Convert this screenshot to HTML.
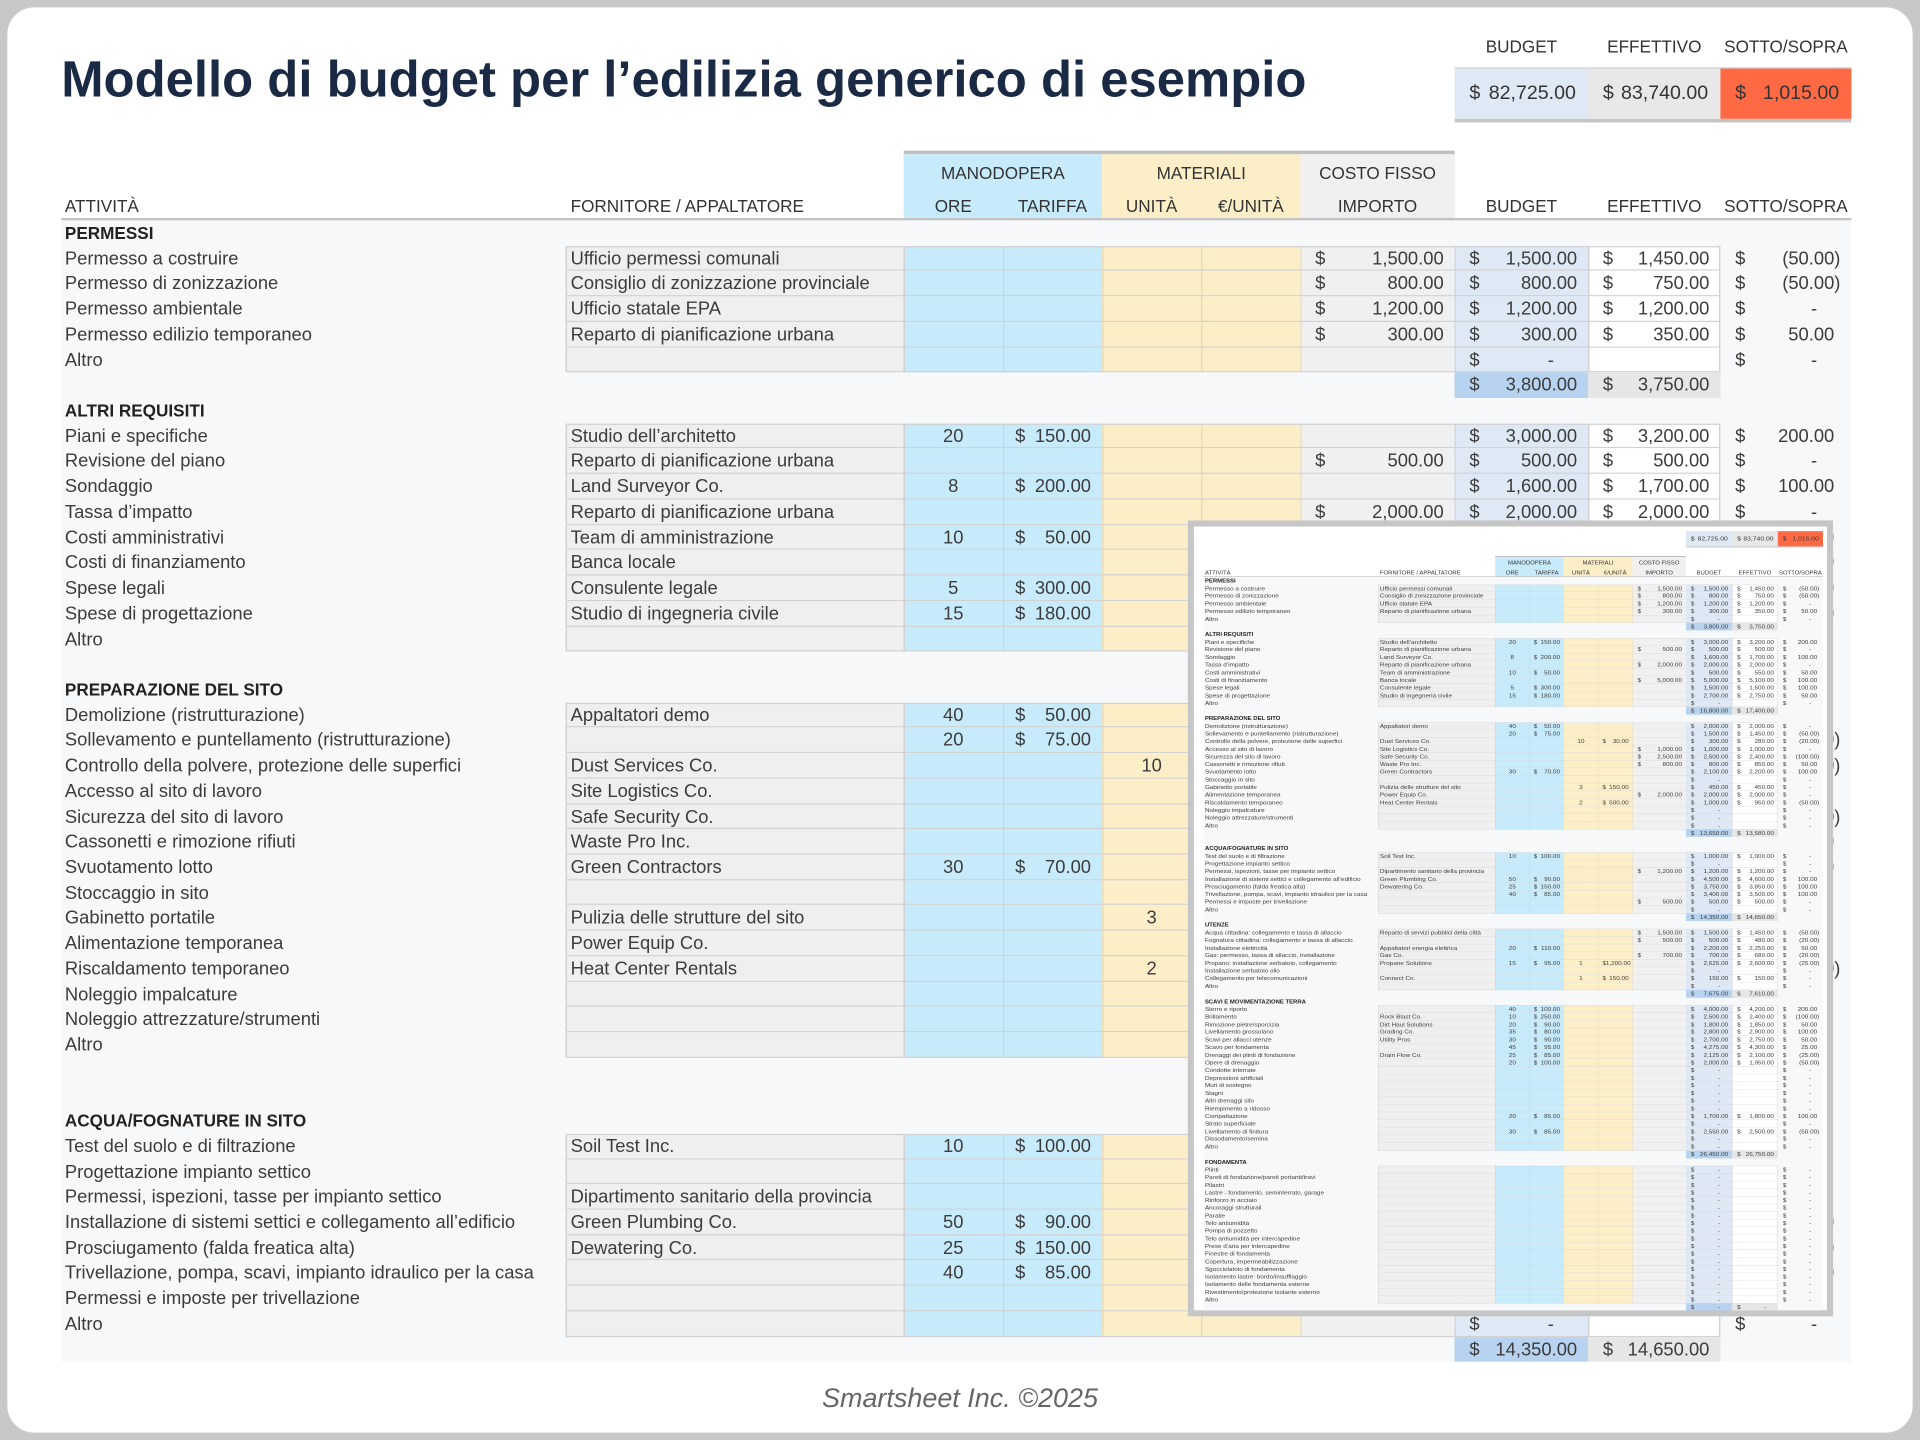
<!DOCTYPE html>
<html><head><meta charset="utf-8">
<style>
html,body{margin:0;padding:0;width:1920px;height:1440px;overflow:hidden;background:#c8c8c8}
#w{position:absolute;left:0;top:0;width:1568px;height:1176px;transform:scale(1.2244898);transform-origin:0 0;font-family:"Liberation Sans",sans-serif}
#frame{position:absolute;left:6px;top:6px;width:1556px;height:1164px;background:#fff;border-radius:22px}
#title{position:absolute;left:50px;top:41px;font-size:41.5px;font-weight:bold;color:#1b2a44;white-space:nowrap}
.sheet{position:absolute;width:1462px}
.sl{position:absolute;top:-95px;height:20px;line-height:20px;font-size:14px;color:#333;text-align:center}
.sb{position:absolute;top:-68px;left:1138px;width:324px;height:45px;border-top:1px solid #ccc;border-bottom:3px solid #c4c4c4;box-sizing:border-box}
.sb div{position:absolute;top:0;height:41px;line-height:41px;font-size:16px;color:#333;text-align:right;padding:0 10px 0 12px;box-sizing:border-box}
.sb i{font-style:normal;float:left}
.hl{position:absolute;top:0;left:688px;width:450px;height:3px;background:#c0c0c0}
.hb{position:absolute;top:3px;height:53px}
.ht{position:absolute;font-size:14px;color:#333;text-align:center;white-space:nowrap}
.t1{top:4px;height:28px;line-height:28px}
.t2{top:35px;height:20px;line-height:20px}
.hu{position:absolute;left:0;top:55px;width:1462px;height:2px;background:#c4c4c4}
.rows{position:absolute;top:57px;left:0;width:1462px;background:#f7f8fa}
.r{position:relative;height:20.73px;line-height:21px;font-size:15px;color:#3c3c3c}
.r>div{position:absolute;top:0;height:100%;white-space:nowrap;box-sizing:border-box}
.h .a{font-weight:bold;font-size:14px;color:#222}
.a{left:3px}.f{left:416px}
.o{left:688px;width:81px;text-align:center}
.t{left:769px;width:81px}
.u{left:850px;width:81px;text-align:center}
.e{left:931px;width:81px}
.c{left:1012px;width:126px}
.b{left:1138px;width:109px}
.x{left:1247px;width:108px}
.s{left:1355px;width:107px}
.m{text-align:right;padding:0 9px 0 12px}
.t.m,.e.m{padding:0 9px 0 10px}
.m i{font-style:normal;float:left}
.z{padding-right:28px!important}
u{visibility:hidden;text-decoration:none}
.d{background:
 linear-gradient(#d2d2d2,#d2d2d2) 412px 100%/943px 1px no-repeat,
 linear-gradient(to right,transparent 412px,#d2d2d2 412px 413px,#efefef 413px 688px,#d2d2d2 688px 689px,#c8ebfb 689px 769px,#b9dcec 769px 770px,#c8ebfb 770px 850px,#e6dcb8 850px 851px,#fcefc8 851px 931px,#e6dcb8 931px 932px,#fcefc8 932px 1012px,#d8d8d8 1012px 1013px,#f0f0f0 1013px 1138px,#cfd8e3 1138px 1139px,#dfe9f5 1139px 1247px,#d2d2d2 1247px 1248px,#fff 1248px 1354px,#d2d2d2 1354px 1355px,transparent 1355px)}
.ft{background:
 linear-gradient(#d2d2d2,#d2d2d2) 412px 0/943px 1px no-repeat,
 linear-gradient(#d2d2d2,#d2d2d2) 412px 100%/943px 1px no-repeat,
 linear-gradient(to right,transparent 412px,#d2d2d2 412px 413px,#efefef 413px 688px,#d2d2d2 688px 689px,#c8ebfb 689px 769px,#b9dcec 769px 770px,#c8ebfb 770px 850px,#e6dcb8 850px 851px,#fcefc8 851px 931px,#e6dcb8 931px 932px,#fcefc8 932px 1012px,#d8d8d8 1012px 1013px,#f0f0f0 1013px 1138px,#cfd8e3 1138px 1139px,#dfe9f5 1139px 1247px,#d2d2d2 1247px 1248px,#fff 1248px 1354px,#d2d2d2 1354px 1355px,transparent 1355px)}
.tt{background:linear-gradient(to right,transparent 1138px,#b7d3ef 1138px 1247px,#e6e6e6 1247px 1355px,transparent 1355px)}
#foot{position:absolute;left:0;width:1568px;top:1129px;text-align:center;font-size:22px;font-style:italic;color:#666}
#ov{position:absolute;left:970px;top:425px;width:527px;height:650px;box-sizing:border-box;border:5px solid #c6c6c6;background:#fff;overflow:hidden}
#ov .sheet{left:8px;top:24px;transform:scale(0.346,0.3015);transform-origin:0 0}
</style></head><body>
<div id="w">
<div id="frame"></div>
<div id="title">Modello di budget per l’edilizia generico di esempio</div>

<div class="sheet" style="left:50px;top:123px">
<div class="sl" style="left:1138px;width:109px">BUDGET</div>
<div class="sl" style="left:1247px;width:108px">EFFETTIVO</div>
<div class="sl" style="left:1355px;width:107px">SOTTO/SOPRA</div>
<div class="sb"><div style="left:0;width:109px;background:#dfe9f5"><i>$</i>82,725.00</div><div style="left:109px;width:108px;background:#e8e8e8"><i>$</i>83,740.00</div><div style="left:217px;width:107px;background:#ff6a45"><i>$</i>1,015.00</div></div>
<div class="hl"></div>
<div class="hb" style="left:688px;width:162px;background:#c8ebfb"></div>
<div class="hb" style="left:850px;width:162px;background:#fcefc8"></div>
<div class="hb" style="left:1012px;width:126px;background:#f0f0f0"></div>
<div class="ht t1" style="left:688px;width:162px">MANODOPERA</div>
<div class="ht t1" style="left:850px;width:162px">MATERIALI</div>
<div class="ht t1" style="left:1012px;width:126px">COSTO FISSO</div>
<div class="ht t2" style="left:3px;text-align:left">ATTIVITÀ</div>
<div class="ht t2" style="left:416px;text-align:left">FORNITORE / APPALTATORE</div>
<div class="ht t2" style="left:688px;width:81px">ORE</div>
<div class="ht t2" style="left:769px;width:81px">TARIFFA</div>
<div class="ht t2" style="left:850px;width:81px">UNITÀ</div>
<div class="ht t2" style="left:931px;width:81px">€/UNITÀ</div>
<div class="ht t2" style="left:1012px;width:126px">IMPORTO</div>
<div class="ht t2" style="left:1138px;width:109px">BUDGET</div>
<div class="ht t2" style="left:1247px;width:108px">EFFETTIVO</div>
<div class="ht t2" style="left:1355px;width:107px">SOTTO/SOPRA</div>
<div class="hu"></div>
<div class="rows">
<div class="r h"><div class="a">PERMESSI</div></div>
<div class="r d ft"><div class="a">Permesso a costruire</div><div class="f">Ufficio permessi comunali</div><div class="c m"><i>$</i>1,500.00</div><div class="b m"><i>$</i>1,500.00</div><div class="x m"><i>$</i>1,450.00</div><div class="s m"><i>$</i>(50.00)</div></div>
<div class="r d"><div class="a">Permesso di zonizzazione</div><div class="f">Consiglio di zonizzazione provinciale</div><div class="c m"><i>$</i>800.00</div><div class="b m"><i>$</i>800.00</div><div class="x m"><i>$</i>750.00</div><div class="s m"><i>$</i>(50.00)</div></div>
<div class="r d"><div class="a">Permesso ambientale</div><div class="f">Ufficio statale EPA</div><div class="c m"><i>$</i>1,200.00</div><div class="b m"><i>$</i>1,200.00</div><div class="x m"><i>$</i>1,200.00</div><div class="s m z"><i>$</i>-</div></div>
<div class="r d"><div class="a">Permesso edilizio temporaneo</div><div class="f">Reparto di pianificazione urbana</div><div class="c m"><i>$</i>300.00</div><div class="b m"><i>$</i>300.00</div><div class="x m"><i>$</i>350.00</div><div class="s m"><i>$</i>50.00<u>)</u></div></div>
<div class="r d"><div class="a">Altro</div><div class="b m z"><i>$</i>-</div><div class="s m z"><i>$</i>-</div></div>
<div class="r tt"><div class="b m"><i>$</i>3,800.00</div><div class="x m"><i>$</i>3,750.00</div></div>
<div class="r h"><div class="a">ALTRI REQUISITI</div></div>
<div class="r d ft"><div class="a">Piani e specifiche</div><div class="f">Studio dell’architetto</div><div class="o">20</div><div class="t m"><i>$</i>150.00</div><div class="b m"><i>$</i>3,000.00</div><div class="x m"><i>$</i>3,200.00</div><div class="s m"><i>$</i>200.00<u>)</u></div></div>
<div class="r d"><div class="a">Revisione del piano</div><div class="f">Reparto di pianificazione urbana</div><div class="c m"><i>$</i>500.00</div><div class="b m"><i>$</i>500.00</div><div class="x m"><i>$</i>500.00</div><div class="s m z"><i>$</i>-</div></div>
<div class="r d"><div class="a">Sondaggio</div><div class="f">Land Surveyor Co.</div><div class="o">8</div><div class="t m"><i>$</i>200.00</div><div class="b m"><i>$</i>1,600.00</div><div class="x m"><i>$</i>1,700.00</div><div class="s m"><i>$</i>100.00<u>)</u></div></div>
<div class="r d"><div class="a">Tassa d’impatto</div><div class="f">Reparto di pianificazione urbana</div><div class="c m"><i>$</i>2,000.00</div><div class="b m"><i>$</i>2,000.00</div><div class="x m"><i>$</i>2,000.00</div><div class="s m z"><i>$</i>-</div></div>
<div class="r d"><div class="a">Costi amministrativi</div><div class="f">Team di amministrazione</div><div class="o">10</div><div class="t m"><i>$</i>50.00</div><div class="b m"><i>$</i>500.00</div><div class="x m"><i>$</i>550.00</div><div class="s m"><i>$</i>50.00<u>)</u></div></div>
<div class="r d"><div class="a">Costi di finanziamento</div><div class="f">Banca locale</div><div class="c m"><i>$</i>5,000.00</div><div class="b m"><i>$</i>5,000.00</div><div class="x m"><i>$</i>5,100.00</div><div class="s m"><i>$</i>100.00<u>)</u></div></div>
<div class="r d"><div class="a">Spese legali</div><div class="f">Consulente legale</div><div class="o">5</div><div class="t m"><i>$</i>300.00</div><div class="b m"><i>$</i>1,500.00</div><div class="x m"><i>$</i>1,600.00</div><div class="s m"><i>$</i>100.00<u>)</u></div></div>
<div class="r d"><div class="a">Spese di progettazione</div><div class="f">Studio di ingegneria civile</div><div class="o">15</div><div class="t m"><i>$</i>180.00</div><div class="b m"><i>$</i>2,700.00</div><div class="x m"><i>$</i>2,750.00</div><div class="s m"><i>$</i>50.00<u>)</u></div></div>
<div class="r d"><div class="a">Altro</div><div class="b m z"><i>$</i>-</div><div class="s m z"><i>$</i>-</div></div>
<div class="r tt"><div class="b m"><i>$</i>16,800.00</div><div class="x m"><i>$</i>17,400.00</div></div>
<div class="r h"><div class="a">PREPARAZIONE DEL SITO</div></div>
<div class="r d ft"><div class="a">Demolizione (ristrutturazione)</div><div class="f">Appaltatori demo</div><div class="o">40</div><div class="t m"><i>$</i>50.00</div><div class="b m"><i>$</i>2,000.00</div><div class="x m"><i>$</i>2,000.00</div><div class="s m z"><i>$</i>-</div></div>
<div class="r d"><div class="a">Sollevamento e puntellamento (ristrutturazione)</div><div class="o">20</div><div class="t m"><i>$</i>75.00</div><div class="b m"><i>$</i>1,500.00</div><div class="x m"><i>$</i>1,450.00</div><div class="s m"><i>$</i>(50.00)</div></div>
<div class="r d"><div class="a">Controllo della polvere, protezione delle superfici</div><div class="f">Dust Services Co.</div><div class="u">10</div><div class="e m"><i>$</i>30.00</div><div class="b m"><i>$</i>300.00</div><div class="x m"><i>$</i>280.00</div><div class="s m"><i>$</i>(20.00)</div></div>
<div class="r d"><div class="a">Accesso al sito di lavoro</div><div class="f">Site Logistics Co.</div><div class="c m"><i>$</i>1,000.00</div><div class="b m"><i>$</i>1,000.00</div><div class="x m"><i>$</i>1,000.00</div><div class="s m z"><i>$</i>-</div></div>
<div class="r d"><div class="a">Sicurezza del sito di lavoro</div><div class="f">Safe Security Co.</div><div class="c m"><i>$</i>2,500.00</div><div class="b m"><i>$</i>2,500.00</div><div class="x m"><i>$</i>2,400.00</div><div class="s m"><i>$</i>(100.00)</div></div>
<div class="r d"><div class="a">Cassonetti e rimozione rifiuti</div><div class="f">Waste Pro Inc.</div><div class="c m"><i>$</i>800.00</div><div class="b m"><i>$</i>800.00</div><div class="x m"><i>$</i>850.00</div><div class="s m"><i>$</i>50.00<u>)</u></div></div>
<div class="r d"><div class="a">Svuotamento lotto</div><div class="f">Green Contractors</div><div class="o">30</div><div class="t m"><i>$</i>70.00</div><div class="b m"><i>$</i>2,100.00</div><div class="x m"><i>$</i>2,200.00</div><div class="s m"><i>$</i>100.00<u>)</u></div></div>
<div class="r d"><div class="a">Stoccaggio in sito</div><div class="b m z"><i>$</i>-</div><div class="s m z"><i>$</i>-</div></div>
<div class="r d"><div class="a">Gabinetto portatile</div><div class="f">Pulizia delle strutture del sito</div><div class="u">3</div><div class="e m"><i>$</i>150.00</div><div class="b m"><i>$</i>450.00</div><div class="x m"><i>$</i>450.00</div><div class="s m z"><i>$</i>-</div></div>
<div class="r d"><div class="a">Alimentazione temporanea</div><div class="f">Power Equip Co.</div><div class="c m"><i>$</i>2,000.00</div><div class="b m"><i>$</i>2,000.00</div><div class="x m"><i>$</i>2,000.00</div><div class="s m z"><i>$</i>-</div></div>
<div class="r d"><div class="a">Riscaldamento temporaneo</div><div class="f">Heat Center Rentals</div><div class="u">2</div><div class="e m"><i>$</i>500.00</div><div class="b m"><i>$</i>1,000.00</div><div class="x m"><i>$</i>950.00</div><div class="s m"><i>$</i>(50.00)</div></div>
<div class="r d"><div class="a">Noleggio impalcature</div><div class="b m z"><i>$</i>-</div><div class="s m z"><i>$</i>-</div></div>
<div class="r d"><div class="a">Noleggio attrezzature/strumenti</div><div class="b m z"><i>$</i>-</div><div class="s m z"><i>$</i>-</div></div>
<div class="r d"><div class="a">Altro</div><div class="b m z"><i>$</i>-</div><div class="s m z"><i>$</i>-</div></div>
<div class="r tt"><div class="b m"><i>$</i>13,650.00</div><div class="x m"><i>$</i>13,580.00</div></div>
<div class="r"></div>
<div class="r h"><div class="a">ACQUA/FOGNATURE IN SITO</div></div>
<div class="r d ft"><div class="a">Test del suolo e di filtrazione</div><div class="f">Soil Test Inc.</div><div class="o">10</div><div class="t m"><i>$</i>100.00</div><div class="b m"><i>$</i>1,000.00</div><div class="x m"><i>$</i>1,000.00</div><div class="s m z"><i>$</i>-</div></div>
<div class="r d"><div class="a">Progettazione impianto settico</div><div class="b m z"><i>$</i>-</div><div class="s m z"><i>$</i>-</div></div>
<div class="r d"><div class="a">Permessi, ispezioni, tasse per impianto settico</div><div class="f">Dipartimento sanitario della provincia</div><div class="c m"><i>$</i>1,200.00</div><div class="b m"><i>$</i>1,200.00</div><div class="x m"><i>$</i>1,200.00</div><div class="s m z"><i>$</i>-</div></div>
<div class="r d"><div class="a">Installazione di sistemi settici e collegamento all’edificio</div><div class="f">Green Plumbing Co.</div><div class="o">50</div><div class="t m"><i>$</i>90.00</div><div class="b m"><i>$</i>4,500.00</div><div class="x m"><i>$</i>4,600.00</div><div class="s m"><i>$</i>100.00<u>)</u></div></div>
<div class="r d"><div class="a">Prosciugamento (falda freatica alta)</div><div class="f">Dewatering Co.</div><div class="o">25</div><div class="t m"><i>$</i>150.00</div><div class="b m"><i>$</i>3,750.00</div><div class="x m"><i>$</i>3,850.00</div><div class="s m"><i>$</i>100.00<u>)</u></div></div>
<div class="r d"><div class="a">Trivellazione, pompa, scavi, impianto idraulico per la casa</div><div class="o">40</div><div class="t m"><i>$</i>85.00</div><div class="b m"><i>$</i>3,400.00</div><div class="x m"><i>$</i>3,500.00</div><div class="s m"><i>$</i>100.00<u>)</u></div></div>
<div class="r d"><div class="a">Permessi e imposte per trivellazione</div><div class="c m"><i>$</i>500.00</div><div class="b m"><i>$</i>500.00</div><div class="x m"><i>$</i>500.00</div><div class="s m z"><i>$</i>-</div></div>
<div class="r d"><div class="a">Altro</div><div class="b m z"><i>$</i>-</div><div class="s m z"><i>$</i>-</div></div>
<div class="r tt"><div class="b m"><i>$</i>14,350.00</div><div class="x m"><i>$</i>14,650.00</div></div>
</div>
</div>

<div id="ov">
<div class="sheet">
<div class="sb"><div style="left:0;width:109px;background:#dfe9f5"><i>$</i>82,725.00</div><div style="left:109px;width:108px;background:#e8e8e8"><i>$</i>83,740.00</div><div style="left:217px;width:107px;background:#ff6a45"><i>$</i>1,015.00</div></div>
<div class="hl"></div>
<div class="hb" style="left:688px;width:162px;background:#c8ebfb"></div>
<div class="hb" style="left:850px;width:162px;background:#fcefc8"></div>
<div class="hb" style="left:1012px;width:126px;background:#f0f0f0"></div>
<div class="ht t1" style="left:688px;width:162px">MANODOPERA</div>
<div class="ht t1" style="left:850px;width:162px">MATERIALI</div>
<div class="ht t1" style="left:1012px;width:126px">COSTO FISSO</div>
<div class="ht t2" style="left:3px;text-align:left">ATTIVITÀ</div>
<div class="ht t2" style="left:416px;text-align:left">FORNITORE / APPALTATORE</div>
<div class="ht t2" style="left:688px;width:81px">ORE</div>
<div class="ht t2" style="left:769px;width:81px">TARIFFA</div>
<div class="ht t2" style="left:850px;width:81px">UNITÀ</div>
<div class="ht t2" style="left:931px;width:81px">€/UNITÀ</div>
<div class="ht t2" style="left:1012px;width:126px">IMPORTO</div>
<div class="ht t2" style="left:1138px;width:109px">BUDGET</div>
<div class="ht t2" style="left:1247px;width:108px">EFFETTIVO</div>
<div class="ht t2" style="left:1355px;width:107px">SOTTO/SOPRA</div>
<div class="hu"></div>
<div class="rows">
<div class="r h"><div class="a">PERMESSI</div></div>
<div class="r d ft"><div class="a">Permesso a costruire</div><div class="f">Ufficio permessi comunali</div><div class="c m"><i>$</i>1,500.00</div><div class="b m"><i>$</i>1,500.00</div><div class="x m"><i>$</i>1,450.00</div><div class="s m"><i>$</i>(50.00)</div></div>
<div class="r d"><div class="a">Permesso di zonizzazione</div><div class="f">Consiglio di zonizzazione provinciale</div><div class="c m"><i>$</i>800.00</div><div class="b m"><i>$</i>800.00</div><div class="x m"><i>$</i>750.00</div><div class="s m"><i>$</i>(50.00)</div></div>
<div class="r d"><div class="a">Permesso ambientale</div><div class="f">Ufficio statale EPA</div><div class="c m"><i>$</i>1,200.00</div><div class="b m"><i>$</i>1,200.00</div><div class="x m"><i>$</i>1,200.00</div><div class="s m z"><i>$</i>-</div></div>
<div class="r d"><div class="a">Permesso edilizio temporaneo</div><div class="f">Reparto di pianificazione urbana</div><div class="c m"><i>$</i>300.00</div><div class="b m"><i>$</i>300.00</div><div class="x m"><i>$</i>350.00</div><div class="s m"><i>$</i>50.00<u>)</u></div></div>
<div class="r d"><div class="a">Altro</div><div class="b m z"><i>$</i>-</div><div class="s m z"><i>$</i>-</div></div>
<div class="r tt"><div class="b m"><i>$</i>3,800.00</div><div class="x m"><i>$</i>3,750.00</div></div>
<div class="r h"><div class="a">ALTRI REQUISITI</div></div>
<div class="r d ft"><div class="a">Piani e specifiche</div><div class="f">Studio dell’architetto</div><div class="o">20</div><div class="t m"><i>$</i>150.00</div><div class="b m"><i>$</i>3,000.00</div><div class="x m"><i>$</i>3,200.00</div><div class="s m"><i>$</i>200.00<u>)</u></div></div>
<div class="r d"><div class="a">Revisione del piano</div><div class="f">Reparto di pianificazione urbana</div><div class="c m"><i>$</i>500.00</div><div class="b m"><i>$</i>500.00</div><div class="x m"><i>$</i>500.00</div><div class="s m z"><i>$</i>-</div></div>
<div class="r d"><div class="a">Sondaggio</div><div class="f">Land Surveyor Co.</div><div class="o">8</div><div class="t m"><i>$</i>200.00</div><div class="b m"><i>$</i>1,600.00</div><div class="x m"><i>$</i>1,700.00</div><div class="s m"><i>$</i>100.00<u>)</u></div></div>
<div class="r d"><div class="a">Tassa d’impatto</div><div class="f">Reparto di pianificazione urbana</div><div class="c m"><i>$</i>2,000.00</div><div class="b m"><i>$</i>2,000.00</div><div class="x m"><i>$</i>2,000.00</div><div class="s m z"><i>$</i>-</div></div>
<div class="r d"><div class="a">Costi amministrativi</div><div class="f">Team di amministrazione</div><div class="o">10</div><div class="t m"><i>$</i>50.00</div><div class="b m"><i>$</i>500.00</div><div class="x m"><i>$</i>550.00</div><div class="s m"><i>$</i>50.00<u>)</u></div></div>
<div class="r d"><div class="a">Costi di finanziamento</div><div class="f">Banca locale</div><div class="c m"><i>$</i>5,000.00</div><div class="b m"><i>$</i>5,000.00</div><div class="x m"><i>$</i>5,100.00</div><div class="s m"><i>$</i>100.00<u>)</u></div></div>
<div class="r d"><div class="a">Spese legali</div><div class="f">Consulente legale</div><div class="o">5</div><div class="t m"><i>$</i>300.00</div><div class="b m"><i>$</i>1,500.00</div><div class="x m"><i>$</i>1,600.00</div><div class="s m"><i>$</i>100.00<u>)</u></div></div>
<div class="r d"><div class="a">Spese di progettazione</div><div class="f">Studio di ingegneria civile</div><div class="o">15</div><div class="t m"><i>$</i>180.00</div><div class="b m"><i>$</i>2,700.00</div><div class="x m"><i>$</i>2,750.00</div><div class="s m"><i>$</i>50.00<u>)</u></div></div>
<div class="r d"><div class="a">Altro</div><div class="b m z"><i>$</i>-</div><div class="s m z"><i>$</i>-</div></div>
<div class="r tt"><div class="b m"><i>$</i>16,800.00</div><div class="x m"><i>$</i>17,400.00</div></div>
<div class="r h"><div class="a">PREPARAZIONE DEL SITO</div></div>
<div class="r d ft"><div class="a">Demolizione (ristrutturazione)</div><div class="f">Appaltatori demo</div><div class="o">40</div><div class="t m"><i>$</i>50.00</div><div class="b m"><i>$</i>2,000.00</div><div class="x m"><i>$</i>2,000.00</div><div class="s m z"><i>$</i>-</div></div>
<div class="r d"><div class="a">Sollevamento e puntellamento (ristrutturazione)</div><div class="o">20</div><div class="t m"><i>$</i>75.00</div><div class="b m"><i>$</i>1,500.00</div><div class="x m"><i>$</i>1,450.00</div><div class="s m"><i>$</i>(50.00)</div></div>
<div class="r d"><div class="a">Controllo della polvere, protezione delle superfici</div><div class="f">Dust Services Co.</div><div class="u">10</div><div class="e m"><i>$</i>30.00</div><div class="b m"><i>$</i>300.00</div><div class="x m"><i>$</i>280.00</div><div class="s m"><i>$</i>(20.00)</div></div>
<div class="r d"><div class="a">Accesso al sito di lavoro</div><div class="f">Site Logistics Co.</div><div class="c m"><i>$</i>1,000.00</div><div class="b m"><i>$</i>1,000.00</div><div class="x m"><i>$</i>1,000.00</div><div class="s m z"><i>$</i>-</div></div>
<div class="r d"><div class="a">Sicurezza del sito di lavoro</div><div class="f">Safe Security Co.</div><div class="c m"><i>$</i>2,500.00</div><div class="b m"><i>$</i>2,500.00</div><div class="x m"><i>$</i>2,400.00</div><div class="s m"><i>$</i>(100.00)</div></div>
<div class="r d"><div class="a">Cassonetti e rimozione rifiuti</div><div class="f">Waste Pro Inc.</div><div class="c m"><i>$</i>800.00</div><div class="b m"><i>$</i>800.00</div><div class="x m"><i>$</i>850.00</div><div class="s m"><i>$</i>50.00<u>)</u></div></div>
<div class="r d"><div class="a">Svuotamento lotto</div><div class="f">Green Contractors</div><div class="o">30</div><div class="t m"><i>$</i>70.00</div><div class="b m"><i>$</i>2,100.00</div><div class="x m"><i>$</i>2,200.00</div><div class="s m"><i>$</i>100.00<u>)</u></div></div>
<div class="r d"><div class="a">Stoccaggio in sito</div><div class="b m z"><i>$</i>-</div><div class="s m z"><i>$</i>-</div></div>
<div class="r d"><div class="a">Gabinetto portatile</div><div class="f">Pulizia delle strutture del sito</div><div class="u">3</div><div class="e m"><i>$</i>150.00</div><div class="b m"><i>$</i>450.00</div><div class="x m"><i>$</i>450.00</div><div class="s m z"><i>$</i>-</div></div>
<div class="r d"><div class="a">Alimentazione temporanea</div><div class="f">Power Equip Co.</div><div class="c m"><i>$</i>2,000.00</div><div class="b m"><i>$</i>2,000.00</div><div class="x m"><i>$</i>2,000.00</div><div class="s m z"><i>$</i>-</div></div>
<div class="r d"><div class="a">Riscaldamento temporaneo</div><div class="f">Heat Center Rentals</div><div class="u">2</div><div class="e m"><i>$</i>500.00</div><div class="b m"><i>$</i>1,000.00</div><div class="x m"><i>$</i>950.00</div><div class="s m"><i>$</i>(50.00)</div></div>
<div class="r d"><div class="a">Noleggio impalcature</div><div class="b m z"><i>$</i>-</div><div class="s m z"><i>$</i>-</div></div>
<div class="r d"><div class="a">Noleggio attrezzature/strumenti</div><div class="b m z"><i>$</i>-</div><div class="s m z"><i>$</i>-</div></div>
<div class="r d"><div class="a">Altro</div><div class="b m z"><i>$</i>-</div><div class="s m z"><i>$</i>-</div></div>
<div class="r tt"><div class="b m"><i>$</i>13,650.00</div><div class="x m"><i>$</i>13,580.00</div></div>
<div class="r"></div>
<div class="r h"><div class="a">ACQUA/FOGNATURE IN SITO</div></div>
<div class="r d ft"><div class="a">Test del suolo e di filtrazione</div><div class="f">Soil Test Inc.</div><div class="o">10</div><div class="t m"><i>$</i>100.00</div><div class="b m"><i>$</i>1,000.00</div><div class="x m"><i>$</i>1,000.00</div><div class="s m z"><i>$</i>-</div></div>
<div class="r d"><div class="a">Progettazione impianto settico</div><div class="b m z"><i>$</i>-</div><div class="s m z"><i>$</i>-</div></div>
<div class="r d"><div class="a">Permessi, ispezioni, tasse per impianto settico</div><div class="f">Dipartimento sanitario della provincia</div><div class="c m"><i>$</i>1,200.00</div><div class="b m"><i>$</i>1,200.00</div><div class="x m"><i>$</i>1,200.00</div><div class="s m z"><i>$</i>-</div></div>
<div class="r d"><div class="a">Installazione di sistemi settici e collegamento all’edificio</div><div class="f">Green Plumbing Co.</div><div class="o">50</div><div class="t m"><i>$</i>90.00</div><div class="b m"><i>$</i>4,500.00</div><div class="x m"><i>$</i>4,600.00</div><div class="s m"><i>$</i>100.00<u>)</u></div></div>
<div class="r d"><div class="a">Prosciugamento (falda freatica alta)</div><div class="f">Dewatering Co.</div><div class="o">25</div><div class="t m"><i>$</i>150.00</div><div class="b m"><i>$</i>3,750.00</div><div class="x m"><i>$</i>3,850.00</div><div class="s m"><i>$</i>100.00<u>)</u></div></div>
<div class="r d"><div class="a">Trivellazione, pompa, scavi, impianto idraulico per la casa</div><div class="o">40</div><div class="t m"><i>$</i>85.00</div><div class="b m"><i>$</i>3,400.00</div><div class="x m"><i>$</i>3,500.00</div><div class="s m"><i>$</i>100.00<u>)</u></div></div>
<div class="r d"><div class="a">Permessi e imposte per trivellazione</div><div class="c m"><i>$</i>500.00</div><div class="b m"><i>$</i>500.00</div><div class="x m"><i>$</i>500.00</div><div class="s m z"><i>$</i>-</div></div>
<div class="r d"><div class="a">Altro</div><div class="b m z"><i>$</i>-</div><div class="s m z"><i>$</i>-</div></div>
<div class="r tt"><div class="b m"><i>$</i>14,350.00</div><div class="x m"><i>$</i>14,650.00</div></div>
<div class="r h"><div class="a">UTENZE</div></div>
<div class="r d ft"><div class="a">Acqua cittadina: collegamento e tassa di allaccio</div><div class="f">Reparto di servizi pubblici della città</div><div class="c m"><i>$</i>1,500.00</div><div class="b m"><i>$</i>1,500.00</div><div class="x m"><i>$</i>1,450.00</div><div class="s m"><i>$</i>(50.00)</div></div>
<div class="r d"><div class="a">Fognatura cittadina: collegamento e tassa di allaccio</div><div class="c m"><i>$</i>500.00</div><div class="b m"><i>$</i>500.00</div><div class="x m"><i>$</i>480.00</div><div class="s m"><i>$</i>(20.00)</div></div>
<div class="r d"><div class="a">Installazione elettricità</div><div class="f">Appaltatori energia elettrica</div><div class="o">20</div><div class="t m"><i>$</i>110.00</div><div class="b m"><i>$</i>2,200.00</div><div class="x m"><i>$</i>2,250.00</div><div class="s m"><i>$</i>50.00<u>)</u></div></div>
<div class="r d"><div class="a">Gas: permesso, tassa di allaccio, installazione</div><div class="f">Gas Co.</div><div class="c m"><i>$</i>700.00</div><div class="b m"><i>$</i>700.00</div><div class="x m"><i>$</i>680.00</div><div class="s m"><i>$</i>(20.00)</div></div>
<div class="r d"><div class="a">Propano: installazione serbatoio, collegamento</div><div class="f">Propane Solutions</div><div class="o">15</div><div class="t m"><i>$</i>95.00</div><div class="u">1</div><div class="e m"><i>$</i>1,200.00</div><div class="b m"><i>$</i>2,625.00</div><div class="x m"><i>$</i>2,600.00</div><div class="s m"><i>$</i>(25.00)</div></div>
<div class="r d"><div class="a">Installazione serbatoio olio</div><div class="b m z"><i>$</i>-</div><div class="s m z"><i>$</i>-</div></div>
<div class="r d"><div class="a">Collegamento per telecomunicazioni</div><div class="f">Connect Co.</div><div class="u">1</div><div class="e m"><i>$</i>150.00</div><div class="b m"><i>$</i>150.00</div><div class="x m"><i>$</i>150.00</div><div class="s m z"><i>$</i>-</div></div>
<div class="r d"><div class="a">Altro</div><div class="b m z"><i>$</i>-</div><div class="s m z"><i>$</i>-</div></div>
<div class="r tt"><div class="b m"><i>$</i>7,675.00</div><div class="x m"><i>$</i>7,610.00</div></div>
<div class="r h"><div class="a">SCAVI E MOVIMENTAZIONE TERRA</div></div>
<div class="r d ft"><div class="a">Sterro e riporto</div><div class="o">40</div><div class="t m"><i>$</i>100.00</div><div class="b m"><i>$</i>4,000.00</div><div class="x m"><i>$</i>4,200.00</div><div class="s m"><i>$</i>200.00<u>)</u></div></div>
<div class="r d"><div class="a">Brillamento</div><div class="f">Rock Blast Co.</div><div class="o">10</div><div class="t m"><i>$</i>250.00</div><div class="b m"><i>$</i>2,500.00</div><div class="x m"><i>$</i>2,400.00</div><div class="s m"><i>$</i>(100.00)</div></div>
<div class="r d"><div class="a">Rimozione pietre/sporcizia</div><div class="f">Dirt Haul Solutions</div><div class="o">20</div><div class="t m"><i>$</i>90.00</div><div class="b m"><i>$</i>1,800.00</div><div class="x m"><i>$</i>1,850.00</div><div class="s m"><i>$</i>50.00<u>)</u></div></div>
<div class="r d"><div class="a">Livellamento grossolano</div><div class="f">Grading Co.</div><div class="o">35</div><div class="t m"><i>$</i>80.00</div><div class="b m"><i>$</i>2,800.00</div><div class="x m"><i>$</i>2,900.00</div><div class="s m"><i>$</i>100.00<u>)</u></div></div>
<div class="r d"><div class="a">Scavi per allacci utenze</div><div class="f">Utility Pros</div><div class="o">30</div><div class="t m"><i>$</i>90.00</div><div class="b m"><i>$</i>2,700.00</div><div class="x m"><i>$</i>2,750.00</div><div class="s m"><i>$</i>50.00<u>)</u></div></div>
<div class="r d"><div class="a">Scavo per fondamenta</div><div class="o">45</div><div class="t m"><i>$</i>95.00</div><div class="b m"><i>$</i>4,275.00</div><div class="x m"><i>$</i>4,300.00</div><div class="s m"><i>$</i>25.00<u>)</u></div></div>
<div class="r d"><div class="a">Drenaggi dei plinti di fondazione</div><div class="f">Drain Flow Co.</div><div class="o">25</div><div class="t m"><i>$</i>85.00</div><div class="b m"><i>$</i>2,125.00</div><div class="x m"><i>$</i>2,100.00</div><div class="s m"><i>$</i>(25.00)</div></div>
<div class="r d"><div class="a">Opere di drenaggio</div><div class="o">20</div><div class="t m"><i>$</i>100.00</div><div class="b m"><i>$</i>2,000.00</div><div class="x m"><i>$</i>1,950.00</div><div class="s m"><i>$</i>(50.00)</div></div>
<div class="r d"><div class="a">Condotte interrate</div><div class="b m z"><i>$</i>-</div><div class="s m z"><i>$</i>-</div></div>
<div class="r d"><div class="a">Depressioni artificiali</div><div class="b m z"><i>$</i>-</div><div class="s m z"><i>$</i>-</div></div>
<div class="r d"><div class="a">Muri di sostegno</div><div class="b m z"><i>$</i>-</div><div class="s m z"><i>$</i>-</div></div>
<div class="r d"><div class="a">Stagni</div><div class="b m z"><i>$</i>-</div><div class="s m z"><i>$</i>-</div></div>
<div class="r d"><div class="a">Altri drenaggi sito</div><div class="b m z"><i>$</i>-</div><div class="s m z"><i>$</i>-</div></div>
<div class="r d"><div class="a">Riempimento a ridosso</div><div class="b m z"><i>$</i>-</div><div class="s m z"><i>$</i>-</div></div>
<div class="r d"><div class="a">Compattazione</div><div class="o">20</div><div class="t m"><i>$</i>85.00</div><div class="b m"><i>$</i>1,700.00</div><div class="x m"><i>$</i>1,800.00</div><div class="s m"><i>$</i>100.00<u>)</u></div></div>
<div class="r d"><div class="a">Strato superficiale</div><div class="b m z"><i>$</i>-</div><div class="s m z"><i>$</i>-</div></div>
<div class="r d"><div class="a">Livellamento di finitura</div><div class="o">30</div><div class="t m"><i>$</i>85.00</div><div class="b m"><i>$</i>2,550.00</div><div class="x m"><i>$</i>2,500.00</div><div class="s m"><i>$</i>(50.00)</div></div>
<div class="r d"><div class="a">Dissodamento/semina</div><div class="b m z"><i>$</i>-</div><div class="s m z"><i>$</i>-</div></div>
<div class="r d"><div class="a">Altro</div><div class="b m z"><i>$</i>-</div><div class="s m z"><i>$</i>-</div></div>
<div class="r tt"><div class="b m"><i>$</i>26,450.00</div><div class="x m"><i>$</i>26,750.00</div></div>
<div class="r h"><div class="a">FONDAMENTA</div></div>
<div class="r d ft"><div class="a">Plinti</div><div class="b m z"><i>$</i>-</div><div class="s m z"><i>$</i>-</div></div>
<div class="r d"><div class="a">Pareti di fondazione/pareti portanti/travi</div><div class="b m z"><i>$</i>-</div><div class="s m z"><i>$</i>-</div></div>
<div class="r d"><div class="a">Pilastri</div><div class="b m z"><i>$</i>-</div><div class="s m z"><i>$</i>-</div></div>
<div class="r d"><div class="a">Lastre - fondamento, seminterrato, garage</div><div class="b m z"><i>$</i>-</div><div class="s m z"><i>$</i>-</div></div>
<div class="r d"><div class="a">Rinforzo in acciaio</div><div class="b m z"><i>$</i>-</div><div class="s m z"><i>$</i>-</div></div>
<div class="r d"><div class="a">Ancoraggi strutturali</div><div class="b m z"><i>$</i>-</div><div class="s m z"><i>$</i>-</div></div>
<div class="r d"><div class="a">Paratie</div><div class="b m z"><i>$</i>-</div><div class="s m z"><i>$</i>-</div></div>
<div class="r d"><div class="a">Telo antiumidità</div><div class="b m z"><i>$</i>-</div><div class="s m z"><i>$</i>-</div></div>
<div class="r d"><div class="a">Pompa di pozzetto</div><div class="b m z"><i>$</i>-</div><div class="s m z"><i>$</i>-</div></div>
<div class="r d"><div class="a">Telo antiumidità per intercapedine</div><div class="b m z"><i>$</i>-</div><div class="s m z"><i>$</i>-</div></div>
<div class="r d"><div class="a">Prese d’aria per intercapedine</div><div class="b m z"><i>$</i>-</div><div class="s m z"><i>$</i>-</div></div>
<div class="r d"><div class="a">Finestre di fondamenta</div><div class="b m z"><i>$</i>-</div><div class="s m z"><i>$</i>-</div></div>
<div class="r d"><div class="a">Copertura, impermeabilizzazione</div><div class="b m z"><i>$</i>-</div><div class="s m z"><i>$</i>-</div></div>
<div class="r d"><div class="a">Sgocciolatoio di fondamenta</div><div class="b m z"><i>$</i>-</div><div class="s m z"><i>$</i>-</div></div>
<div class="r d"><div class="a">Isolamento lastre: bordo/insufflaggio</div><div class="b m z"><i>$</i>-</div><div class="s m z"><i>$</i>-</div></div>
<div class="r d"><div class="a">Isolamento delle fondamenta esterne</div><div class="b m z"><i>$</i>-</div><div class="s m z"><i>$</i>-</div></div>
<div class="r d"><div class="a">Rivestimento/protezione isolante esterno</div><div class="b m z"><i>$</i>-</div><div class="s m z"><i>$</i>-</div></div>
<div class="r d"><div class="a">Altro</div><div class="b m z"><i>$</i>-</div><div class="s m z"><i>$</i>-</div></div>
<div class="r tt"><div class="b m z"><i>$</i>-</div><div class="x m z"><i>$</i>-</div></div>
</div>
</div>
</div>

<div id="foot">Smartsheet Inc. ©2025</div>
</div>
</body></html>
